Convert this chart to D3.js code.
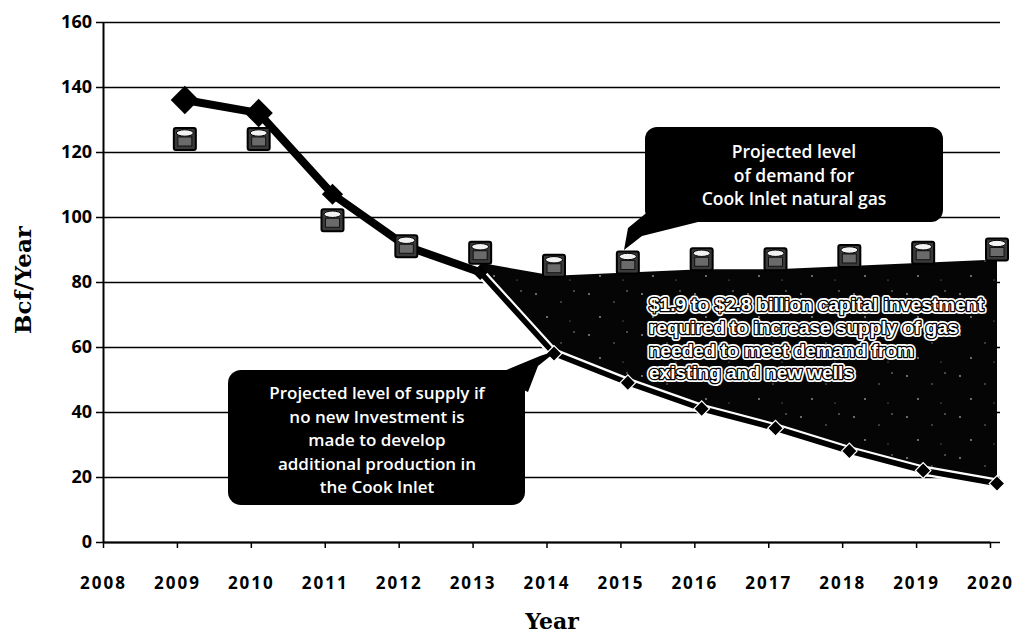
<!DOCTYPE html>
<html>
<head>
<meta charset="utf-8">
<script src="https://cdn.jsdelivr.net/npm/d3@7"></script>
<style>
  body { margin: 0; background: #fff; }
  svg { display: block; }
</style>
</head>
<body>
<svg id="chart" width="1016" height="637"></svg>
<script>
// Cook Inlet natural gas: projected supply vs. demand (Bcf per year)
const years  = [2009, 2010, 2011, 2012, 2013, 2014, 2015, 2016, 2017, 2018, 2019, 2020];
const supply = [136, 132, 107, 91, 83, 58, 49, 41, 35, 28, 22, 18];
const demand = [124, 124, 99, 91, 89, 85, 86, 87, 87, 88, 89, 90];

const xTickValues = [2008, 2009, 2010, 2011, 2012, 2013, 2014, 2015, 2016, 2017, 2018, 2019, 2020];
const yTickValues = [0, 20, 40, 60, 80, 100, 120, 140, 160];

const gapStartYear = 2013;   // shortfall shading begins here

const demandNote = ["Projected level", "of demand for", "Cook Inlet natural gas"];
const supplyNote = ["Projected level of supply if", "no new Investment is", "made to develop",
                    "additional production in", "the Cook Inlet"];
const investNote = ["$1.9 to $2.8 billion capital investment", "required to increase supply of gas",
                    "needed to meet demand from", "existing and new wells"];

const svg = d3.select("#chart");

// scales
const x  = d3.scaleLinear().domain([2008, 2020]).range([103, 990]);   // axis ticks
const xp = d3.scaleLinear().domain([2008, 2020]).range([111, 997]);   // plotted points
const y  = d3.scaleLinear().domain([0, 160]).range([542, 22]);
const plotRight = 1000;

// sparse speckle texture for the shortfall area
const defs = svg.append("defs");
const pat = defs.append("pattern").attr("id", "speckle")
  .attr("patternUnits", "userSpaceOnUse").attr("width", 53).attr("height", 41);
pat.append("rect").attr("width", 53).attr("height", 41).attr("fill", "#050505");
[[6, 7, 0.9], [31, 15, 0.7], [44, 4, 0.8], [17, 30, 0.9], [40, 34, 0.6]]
  .forEach(([cx, cy, r]) => pat.append("circle").attr("cx", cx).attr("cy", cy).attr("r", r).attr("fill", "#9a9a9a"));

// y axis with full-width gridlines
const yAxis = svg.append("g").attr("transform", `translate(${x(2008)},0)`)
  .call(d3.axisLeft(y).tickValues(yTickValues).tickSizeInner(-(plotRight - x(2008))).tickSizeOuter(0).tickPadding(11));
yAxis.select(".domain").attr("stroke", "#000").attr("stroke-width", 2);
yAxis.selectAll(".tick line").attr("x1", -7).attr("stroke", "#000").attr("stroke-width", 1.6);
yAxis.selectAll(".tick text")
  .style("font-family", "'Open Sans', 'DejaVu Sans', sans-serif")
  .style("font-weight", 700).style("font-size", "18px").attr("fill", "#000");

// x axis
const xAxis = svg.append("g").attr("transform", `translate(0,${y(0)})`)
  .call(d3.axisBottom(x).tickValues(xTickValues).tickFormat(d3.format("d")).tickSize(6).tickSizeOuter(0).tickPadding(29));
xAxis.select(".domain").attr("stroke", "#000").attr("stroke-width", 2);
xAxis.selectAll(".tick line").attr("stroke", "#000").attr("stroke-width", 1.5);
xAxis.selectAll(".tick text")
  .style("font-family", "'Open Sans', 'DejaVu Sans', sans-serif")
  .style("font-weight", 700).style("font-size", "17px").style("letter-spacing", "2px").attr("fill", "#000");

// axis titles
svg.append("text").attr("x", 552).attr("y", 629).attr("text-anchor", "middle")
  .style("font-family", "'DejaVu Serif', serif").style("font-weight", 700).style("font-size", "22px")
  .text("Year");
svg.append("text").attr("transform", "translate(31,280) rotate(-90)").attr("text-anchor", "middle")
  .style("font-family", "'DejaVu Serif', serif").style("font-weight", 700).style("font-size", "23px")
  .text("Bcf/Year");

// records joined for the shortfall area
const rows = years.map((yr, i) => ({ year: yr, supply: supply[i], demand: demand[i] }));
const gapRows = rows.filter(d => d.year >= gapStartYear);

// shortfall area between supply and demand (top edge sits at the base of the demand markers)
const area = d3.area()
  .x(d => xp(d.year))
  .y0(d => y(d.supply))
  .y1(d => y(d.demand) + 10);
svg.append("path").datum(gapRows).attr("d", area).attr("fill", "url(#speckle)");

// supply line
const line = d3.line().x(d => xp(d.year)).y(d => y(d.supply));
const early = rows.filter(d => d.year <= gapStartYear);
const late  = rows.filter(d => d.year >= gapStartYear);
svg.append("path").datum(early).attr("d", line).attr("fill", "none")
  .attr("stroke", "#000").attr("stroke-width", 8).attr("stroke-linejoin", "round");
svg.append("path").datum(late).attr("d", line).attr("fill", "none")
  .attr("stroke", "#fff").attr("stroke-width", 10).attr("stroke-linejoin", "round");
svg.append("path").datum(late).attr("d", line).attr("fill", "none")
  .attr("stroke", "#000").attr("stroke-width", 5.5).attr("stroke-linejoin", "round");

// supply diamonds
const diamondSide = d => d.year <= 2010 ? 20 : (d.year <= 2012 ? 15 : 11);
svg.append("g").selectAll("path").data(rows).join("path")
  .attr("transform", d => `translate(${xp(d.year)},${y(d.supply)}) rotate(45)`)
  .attr("d", d => d3.symbol(d3.symbolSquare, diamondSide(d) * diamondSide(d))())
  .attr("fill", "#000")
  .attr("stroke", d => d.year > gapStartYear ? "#fff" : "none")
  .attr("stroke-width", 1.2);

// demand markers (small cylinders)
const mk = svg.append("g").selectAll("g").data(rows).join("g")
  .attr("transform", d => `translate(${xp(d.year)},${y(d.demand)})`);
mk.append("rect").attr("x", -11).attr("y", -11).attr("width", 22).attr("height", 22).attr("rx", 2)
  .attr("fill", "#3a3a3a").attr("stroke", "#000").attr("stroke-width", 2);
mk.append("rect").attr("x", -7).attr("y", -2).attr("width", 14).attr("height", 9)
  .attr("fill", "#6a6a6a").attr("stroke", "#111").attr("stroke-width", 1);
mk.append("ellipse").attr("cx", 0).attr("cy", -6).attr("rx", 8.5).attr("ry", 3.2)
  .attr("fill", "#f2f2f2").attr("stroke", "#000").attr("stroke-width", 1);

// callout: demand
const calloutFont = "'Open Sans', 'DejaVu Sans', sans-serif";
svg.append("path").attr("d", "M650,210 L698,222 L642,236 L624,250 L628,228 Z").attr("fill", "#000");
svg.append("rect").attr("x", 645).attr("y", 127).attr("width", 298).attr("height", 95).attr("rx", 12).attr("fill", "#000");
svg.append("g").selectAll("text").data(demandNote).join("text")
  .attr("x", 794).attr("y", (d, i) => 158 + i * 23.5).attr("text-anchor", "middle")
  .style("font-family", calloutFont).style("font-weight", 600).style("font-size", "17.5px")
  .attr("fill", "#fff").text(d => d);

// callout: supply
svg.append("path").attr("d", "M492,376 L528,392 L538,366 L558,350 L540,356 Z").attr("fill", "#000");
svg.append("rect").attr("x", 228).attr("y", 370).attr("width", 297).attr("height", 135).attr("rx", 13).attr("fill", "#000");
svg.append("g").selectAll("text").data(supplyNote).join("text")
  .attr("x", 377).attr("y", (d, i) => 399 + i * 23.5).attr("text-anchor", "middle")
  .style("font-family", calloutFont).style("font-weight", 600).style("font-size", "17px")
  .attr("fill", "#fff").text(d => d);

// outlined note inside the shortfall area
const inv = svg.append("g").style("font-family", "'Liberation Sans', Arial, sans-serif")
  .style("font-weight", 700).style("font-size", "19px");
[["#fff", 6], ["#000", 2.6]].forEach(([c, w]) => {
  inv.append("g").selectAll("text").data(investNote).join("text")
    .attr("x", 649).attr("y", (d, i) => 311 + i * 22.8)
    .attr("fill", "none").attr("stroke", c).attr("stroke-width", w).attr("stroke-linejoin", "round")
    .text(d => d);
});
inv.append("g").selectAll("text").data(investNote).join("text")
  .attr("x", 649).attr("y", (d, i) => 311 + i * 22.8).attr("fill", "#fff").text(d => d);
</script>
</body>
</html>
